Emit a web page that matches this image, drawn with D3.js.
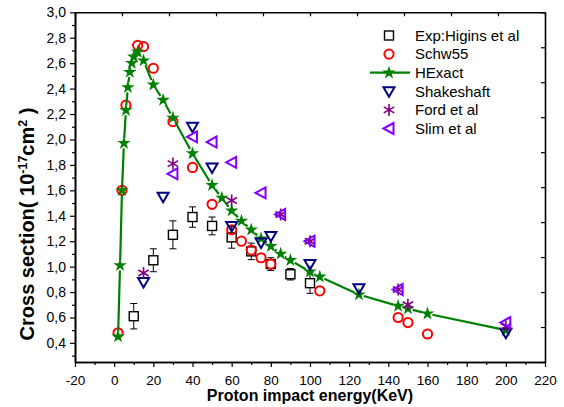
<!DOCTYPE html>
<html><head><meta charset="utf-8">
<script src="https://cdn.jsdelivr.net/npm/d3@7"></script>
<style>
html,body{margin:0;padding:0;background:#fff;}
svg{display:block;font-family:"Liberation Sans",Arial,sans-serif;}
</style></head>
<body><svg id="c" width="564" height="407"></svg>
<script>
// ---- data ----
const expE   = [10, 20, 30, 40, 50, 60, 70, 80, 90, 100];
const expV   = [0.61, 1.05, 1.25, 1.39, 1.32, 1.23, 1.12, 1.02, 0.94, 0.87];
const expErr = [0.10, 0.09, 0.11, 0.08, 0.07, 0.085, 0.065, 0.05, 0.045, 0.08];

const schwE = [2, 4, 6, 12, 15, 20, 30, 40, 50, 60, 65, 70, 75, 80, 105, 145, 150, 160];
const schwV = [0.48, 1.6, 2.27, 2.74, 2.73, 2.56, 2.14, 1.78, 1.49, 1.29, 1.2, 1.13, 1.07, 1.02, 0.81, 0.6, 0.56, 0.47];

const hexE = [2, 3, 4, 5, 6, 7, 8, 9, 10, 12, 15, 20, 25, 30, 40, 50, 55, 60, 65, 70, 75, 80, 85, 90, 100, 105, 125, 145, 150, 160, 200];
const hexV = [0.45, 1.01, 1.6, 1.97, 2.23, 2.41, 2.53, 2.6, 2.65, 2.69, 2.62, 2.43, 2.31, 2.17, 1.89, 1.64, 1.54, 1.44, 1.36, 1.29, 1.22, 1.16, 1.1, 1.05, 0.96, 0.92, 0.78, 0.69, 0.67, 0.63, 0.5];

const shakeE = [15, 25, 40, 50, 60, 75, 80, 100, 125, 200];
const shakeV = [0.88, 1.55, 2.1, 1.78, 1.32, 1.19, 1.24, 1.02, 0.83, 0.48];

const fordE = [15, 30, 60, 85, 100, 145, 150, 200];
const fordV = [0.95, 1.81, 1.52, 1.41, 1.2, 0.82, 0.7, 0.53];

const slimE = [30, 40, 50, 60, 75, 85, 100, 145, 200];
const slimV = [1.73, 2.02, 1.98, 1.82, 1.58, 1.41, 1.2, 0.82, 0.56];

const xTicks = [-20, 0, 20, 40, 60, 80, 100, 120, 140, 160, 180, 200, 220];
const yTicks = [0.4, 0.6, 0.8, 1.0, 1.2, 1.4, 1.6, 1.8, 2.0, 2.2, 2.4, 2.6, 2.8, 3.0];
const legendNames = ["Exp:Higins et al", "Schw55", "HExact", "Shakeshaft", "Ford et al", "Slim et al"];

// ---- layout ----
const L = 75, R = 545, T = 12.3, B = 362;
const svg = d3.select("#c");
const x = d3.scaleLinear().domain([-20, 220]).range([L, R]);
const y = d3.scaleLinear().domain([0.25, 3.0]).range([B, T]);
const zip = (a, b) => a.map((d, i) => [d, b[i]]);

const C = {exp: "#000000", schw: "#ff0000", hex: "#008000", shake: "#000080", ford: "#800080", slim: "#8000ff"};

// ---- axes ----
const fmtY = d => d.toFixed(1).replace(".", ",");
function styleAxis(g, fs) {
  g.selectAll("path.domain").attr("stroke", "#000").attr("stroke-width", 1.6);
  g.selectAll(".tick line").attr("stroke", "#000").attr("stroke-width", 1.2);
  g.selectAll("text").attr("font-size", fs || 14).attr("fill", "#000").attr("font-family", '"Liberation Sans",Arial,sans-serif');
}
// bottom
svg.append("g").attr("transform", `translate(0,${B})`)
  .call(d3.axisBottom(x).tickValues(d3.range(-10, 220, 20)).tickSize(3).tickSizeOuter(0).tickFormat(""))
  .call(styleAxis);
svg.append("g").attr("transform", `translate(0,${B})`)
  .call(d3.axisBottom(x).tickValues(xTicks).tickSize(5).tickSizeOuter(0).tickPadding(8).tickFormat(d => String(d)))
  .call(g => styleAxis(g, 13.5));
// left
svg.append("g").attr("transform", `translate(${L},0)`)
  .call(d3.axisLeft(y).tickValues(d3.range(3, 30, 2).map(v => v / 10)).tickSize(3).tickSizeOuter(0).tickFormat(""))
  .call(styleAxis);
svg.append("g").attr("transform", `translate(${L},0)`)
  .call(d3.axisLeft(y).tickValues(yTicks).tickSize(5).tickSizeOuter(0).tickPadding(4).tickFormat(fmtY))
  .call(styleAxis);
// top & right (inward ticks, 10 divisions)
const topS = d3.scaleLinear().domain([0, 10]).range([L, R]);
const rightS = d3.scaleLinear().domain([0, 10]).range([B, T]);
svg.append("g").attr("transform", `translate(0,${T})`)
  .call(d3.axisBottom(topS).ticks(10).tickSize(4).tickSizeOuter(0).tickFormat(""))
  .call(styleAxis);
svg.append("g").attr("transform", `translate(${R},0)`)
  .call(d3.axisLeft(rightS).ticks(10).tickSize(4).tickSizeOuter(0).tickFormat(""))
  .call(styleAxis);

// axis titles
svg.append("text").attr("x", (L + R) / 2).attr("y", 400.5).attr("text-anchor", "middle")
  .attr("font-size", 16).attr("font-weight", "bold").text("Proton impact energy(KeV)");
const yt = svg.append("text").attr("transform", "translate(34,224) rotate(-90)").attr("text-anchor", "middle")
  .attr("font-size", 20).attr("font-weight", "bold");
yt.append("tspan").text("Cross section( 10");
yt.append("tspan").attr("dy", -7.5).attr("font-size", 12.5).text("-17");
yt.append("tspan").attr("dy", 7.5).text("cm");
yt.append("tspan").attr("dy", -7.5).attr("font-size", 12.5).text("2");
yt.append("tspan").attr("dy", 7.5).text(" )");

// ---- marker drawers ----
const starPath = d3.symbol(d3.symbolStar, 56)();
function drawSquare(g, px, py, c) {
  g.append("rect").attr("x", px - 4.5).attr("y", py - 4.5).attr("width", 9).attr("height", 9)
    .attr("fill", "none").attr("stroke", c).attr("stroke-width", 1.4);
}
function drawCircle(g, px, py, c) {
  g.append("circle").attr("cx", px).attr("cy", py).attr("r", 4.6)
    .attr("fill", "none").attr("stroke", c).attr("stroke-width", 2);
}
function drawStar(g, px, py, c) {
  g.append("path").attr("d", starPath).attr("transform", `translate(${px},${py})`).attr("fill", c);
}
function drawDown(g, px, py, c) {
  g.append("path").attr("d", `M${px - 5.5},${py - 4}L${px + 5.5},${py - 4}L${px},${py + 5.5}Z`)
    .attr("fill", "none").attr("stroke", c).attr("stroke-width", 2).attr("stroke-linejoin", "miter");
}
function drawLeft(g, px, py, c) {
  g.append("path").attr("d", `M${px - 5.5},${py}L${px + 4.5},${py - 5.5}L${px + 4.5},${py + 5.5}Z`)
    .attr("fill", "none").attr("stroke", c).attr("stroke-width", 2);
}
function drawAst(g, px, py, c) {
  const r = 6;
  const a = r * 0.87, b = r * 0.5;
  g.append("path").attr("d", `M${px},${py - r}L${px},${py + r}M${px - a},${py - b}L${px + a},${py + b}M${px - a},${py + b}L${px + a},${py - b}`)
    .attr("stroke", c).attr("stroke-width", 1.6).attr("fill", "none");
}

// ---- plot ----
const plot = svg.append("g");
// Exp with error bars
const gExp = plot.append("g");
zip(expE, expV).forEach(([e, v], i) => {
  const px = x(e), y1 = y(v + expErr[i]), y2 = y(v - expErr[i]);
  gExp.append("path").attr("d", `M${px},${y1}L${px},${y(v) - 4.5}M${px},${y(v) + 4.5}L${px},${y2}M${px - 3.5},${y1}L${px + 3.5},${y1}M${px - 3.5},${y2}L${px + 3.5},${y2}`)
    .attr("stroke", C.exp).attr("stroke-width", 1).attr("fill", "none");
  drawSquare(gExp, px, y(v), C.exp);
});
// Schw55
const gS = plot.append("g");
zip(schwE, schwV).forEach(([e, v]) => drawCircle(gS, x(e), y(v), C.schw));
// HExact line with gap to symbol
const hp = zip(hexE, hexV).map(([e, v]) => [x(e), y(v)]);
let dd = "";
const gap = 5;
for (let i = 0; i < hp.length - 1; i++) {
  const [x1, y1] = hp[i], [x2, y2] = hp[i + 1];
  const len = Math.hypot(x2 - x1, y2 - y1);
  if (len <= 2 * gap) continue;
  const ux = (x2 - x1) / len, uy = (y2 - y1) / len;
  dd += `M${x1 + ux * gap},${y1 + uy * gap}L${x2 - ux * gap},${y2 - uy * gap}`;
}
const gH = plot.append("g");
gH.append("path").attr("d", dd).attr("stroke", C.hex).attr("stroke-width", 2.2).attr("fill", "none");
hp.forEach(([px, py]) => drawStar(gH, px, py, C.hex));
// Shakeshaft
const gSh = plot.append("g");
zip(shakeE, shakeV).forEach(([e, v]) => drawDown(gSh, x(e), y(v), C.shake));
// Ford
const gF = plot.append("g");
zip(fordE, fordV).forEach(([e, v]) => drawAst(gF, x(e), y(v), C.ford));
// Slim
const gSl = plot.append("g");
zip(slimE, slimV).forEach(([e, v]) => drawLeft(gSl, x(e), y(v), C.slim));

// ---- legend ----
const lg = svg.append("g");
const mx = 389, tx = 415, ly0 = 35.5, dy = 18.6;
const drawers = [
  (g, py) => drawSquare(g, mx, py, C.exp),
  (g, py) => drawCircle(g, mx, py, C.schw),
  (g, py) => { g.append("line").attr("x1", 370).attr("x2", 410).attr("y1", py).attr("y2", py).attr("stroke", C.hex).attr("stroke-width", 2.2); drawStar(g, mx, py, C.hex); },
  (g, py) => drawDown(g, mx, py, C.shake),
  (g, py) => drawAst(g, mx, py, C.ford),
  (g, py) => drawLeft(g, mx, py, C.slim)
];
legendNames.forEach((n, i) => {
  const py = ly0 + i * dy;
  drawers[i](lg, py);
  lg.append("text").attr("x", tx).attr("y", py + 5.3).attr("font-size", 15).attr("fill", "#000").text(n);
});
</script></body></html>
